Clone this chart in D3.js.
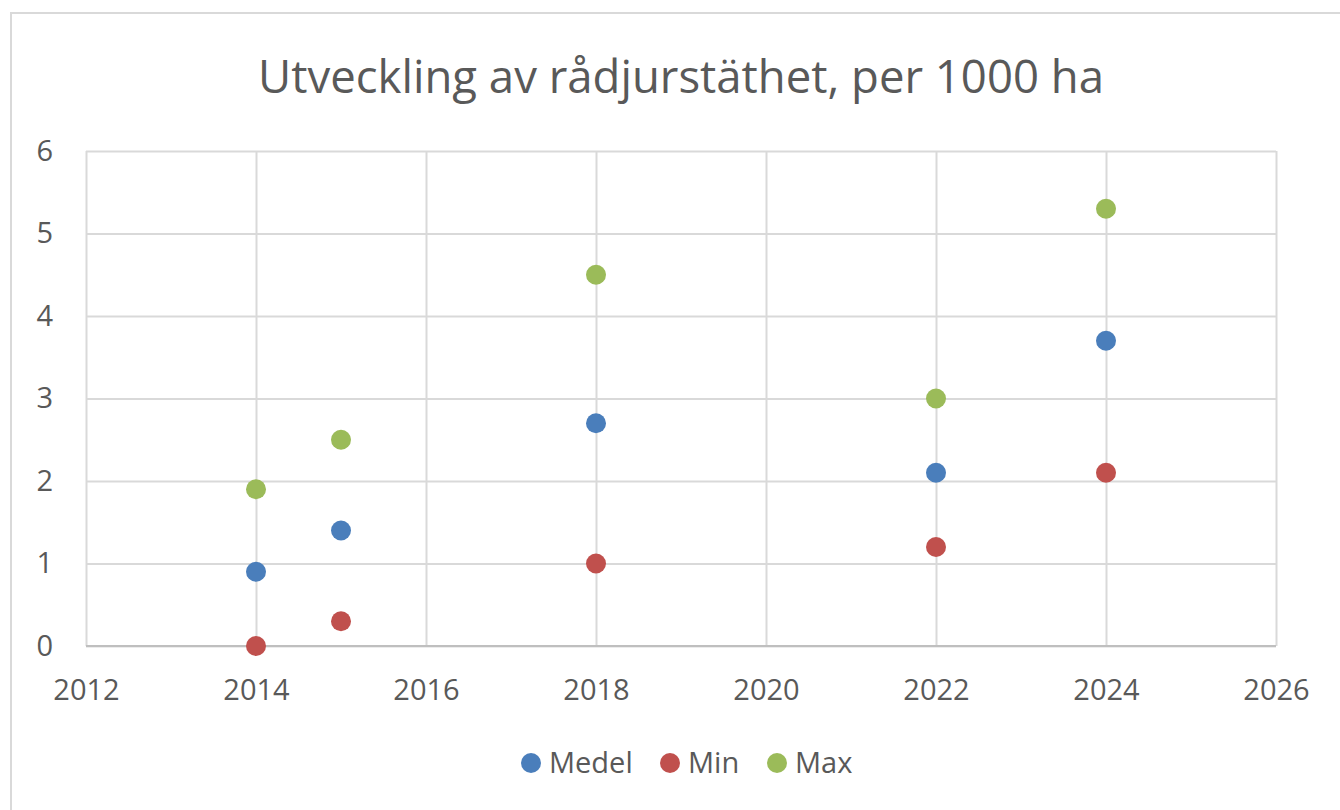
<!DOCTYPE html>
<html><head><meta charset="utf-8">
<script src="https://cdn.jsdelivr.net/npm/d3@7"></script>
<style>
html,body{margin:0;padding:0;background:#fff;overflow:hidden;}
svg{display:block;font-family:"Open Sans",sans-serif;}
</style></head>
<body><svg id="c" width="1340" height="810"></svg>
<script>
const years = [2014, 2015, 2018, 2022, 2024];
const medel = [0.9, 1.4, 2.7, 2.1, 3.7];
const minV  = [0.0, 0.3, 1.0, 1.2, 2.1];
const maxV  = [1.9, 2.5, 4.5, 3.0, 5.3];
const seriesNames = ["Medel", "Min", "Max"];
const seriesColors = ["#4a7ebb", "#c0504d", "#9bbb59"];
const xTicks = [2012, 2014, 2016, 2018, 2020, 2022, 2024, 2026];
const yTicks = [0, 1, 2, 3, 4, 5, 6];
const title = "Utveckling av rådjurstäthet, per 1000 ha";

const seriesValues = [medel, minV, maxV];
const svg = d3.select("#c");
const m = {left: 86, top: 151, right: 1276, bottom: 646};

// outer chart border
svg.append("rect").attr("x", 11).attr("y", 13).attr("width", 1400).attr("height", 900)
  .attr("fill", "#fff").attr("stroke", "#d9d9d9").attr("stroke-width", 2);

const x = d3.scaleLinear().domain([2012, 2026]).range([m.left, m.right]);
const y = d3.scaleLinear().domain([0, 6]).range([m.bottom, m.top]);

// gridlines
const gx = svg.append("g").attr("transform", `translate(0,${m.bottom})`)
  .call(d3.axisBottom(x).tickValues(xTicks).tickSize(-(m.bottom - m.top)).tickFormat(""));
const gy = svg.append("g").attr("transform", `translate(${m.left},0)`)
  .call(d3.axisLeft(y).tickValues(yTicks).tickSize(-(m.right - m.left)).tickFormat(""));
[gx, gy].forEach(g => {
  g.select(".domain").remove();
  g.selectAll(".tick line").attr("stroke", "#d9d9d9").attr("stroke-width", 2);
});
// axis line at 0
svg.append("line").attr("x1", m.left).attr("x2", m.right).attr("y1", y(0)).attr("y2", y(0))
  .attr("stroke", "#bfbfbf").attr("stroke-width", 2);

// tick labels
const xl = svg.append("g").attr("transform", `translate(0,${m.bottom})`)
  .call(d3.axisBottom(x).tickValues(xTicks).tickSize(0).tickPadding(0).tickFormat(d3.format("d")));
xl.select(".domain").remove();
xl.selectAll("text").attr("y", 54).attr("dy", null).attr("font-size", 29)
  .attr("fill", "#595959").attr("font-family", "Open Sans");
const yl = svg.append("g").attr("transform", `translate(${m.left},0)`)
  .call(d3.axisLeft(y).tickValues(yTicks).tickSize(0).tickPadding(33).tickFormat(d3.format("d")));
yl.select(".domain").remove();
yl.selectAll("text").attr("font-size", 29).attr("fill", "#595959").attr("font-family", "Open Sans");

// points
seriesValues.forEach((vals, si) => {
  svg.append("g").selectAll("circle").data(years.map((yr, i) => ({yr, v: vals[i]})))
    .join("circle").attr("cx", d => x(d.yr)).attr("cy", d => y(d.v)).attr("r", 10)
    .attr("fill", seriesColors[si]);
});

// title
svg.append("text").attr("x", (m.left + m.right) / 2).attr("y", 93).attr("text-anchor", "middle")
  .attr("font-size", 45.5).attr("fill", "#595959").text(title);

// legend
const legendX = [531, 670, 777];
const lg = svg.append("g");
seriesNames.forEach((n, i) => {
  lg.append("circle").attr("cx", legendX[i]).attr("cy", 763).attr("r", 10).attr("fill", seriesColors[i]);
  lg.append("text").attr("x", legendX[i] + 18).attr("y", 773).attr("font-size", 29)
    .attr("fill", "#595959").text(n);
});
</script></body></html>
